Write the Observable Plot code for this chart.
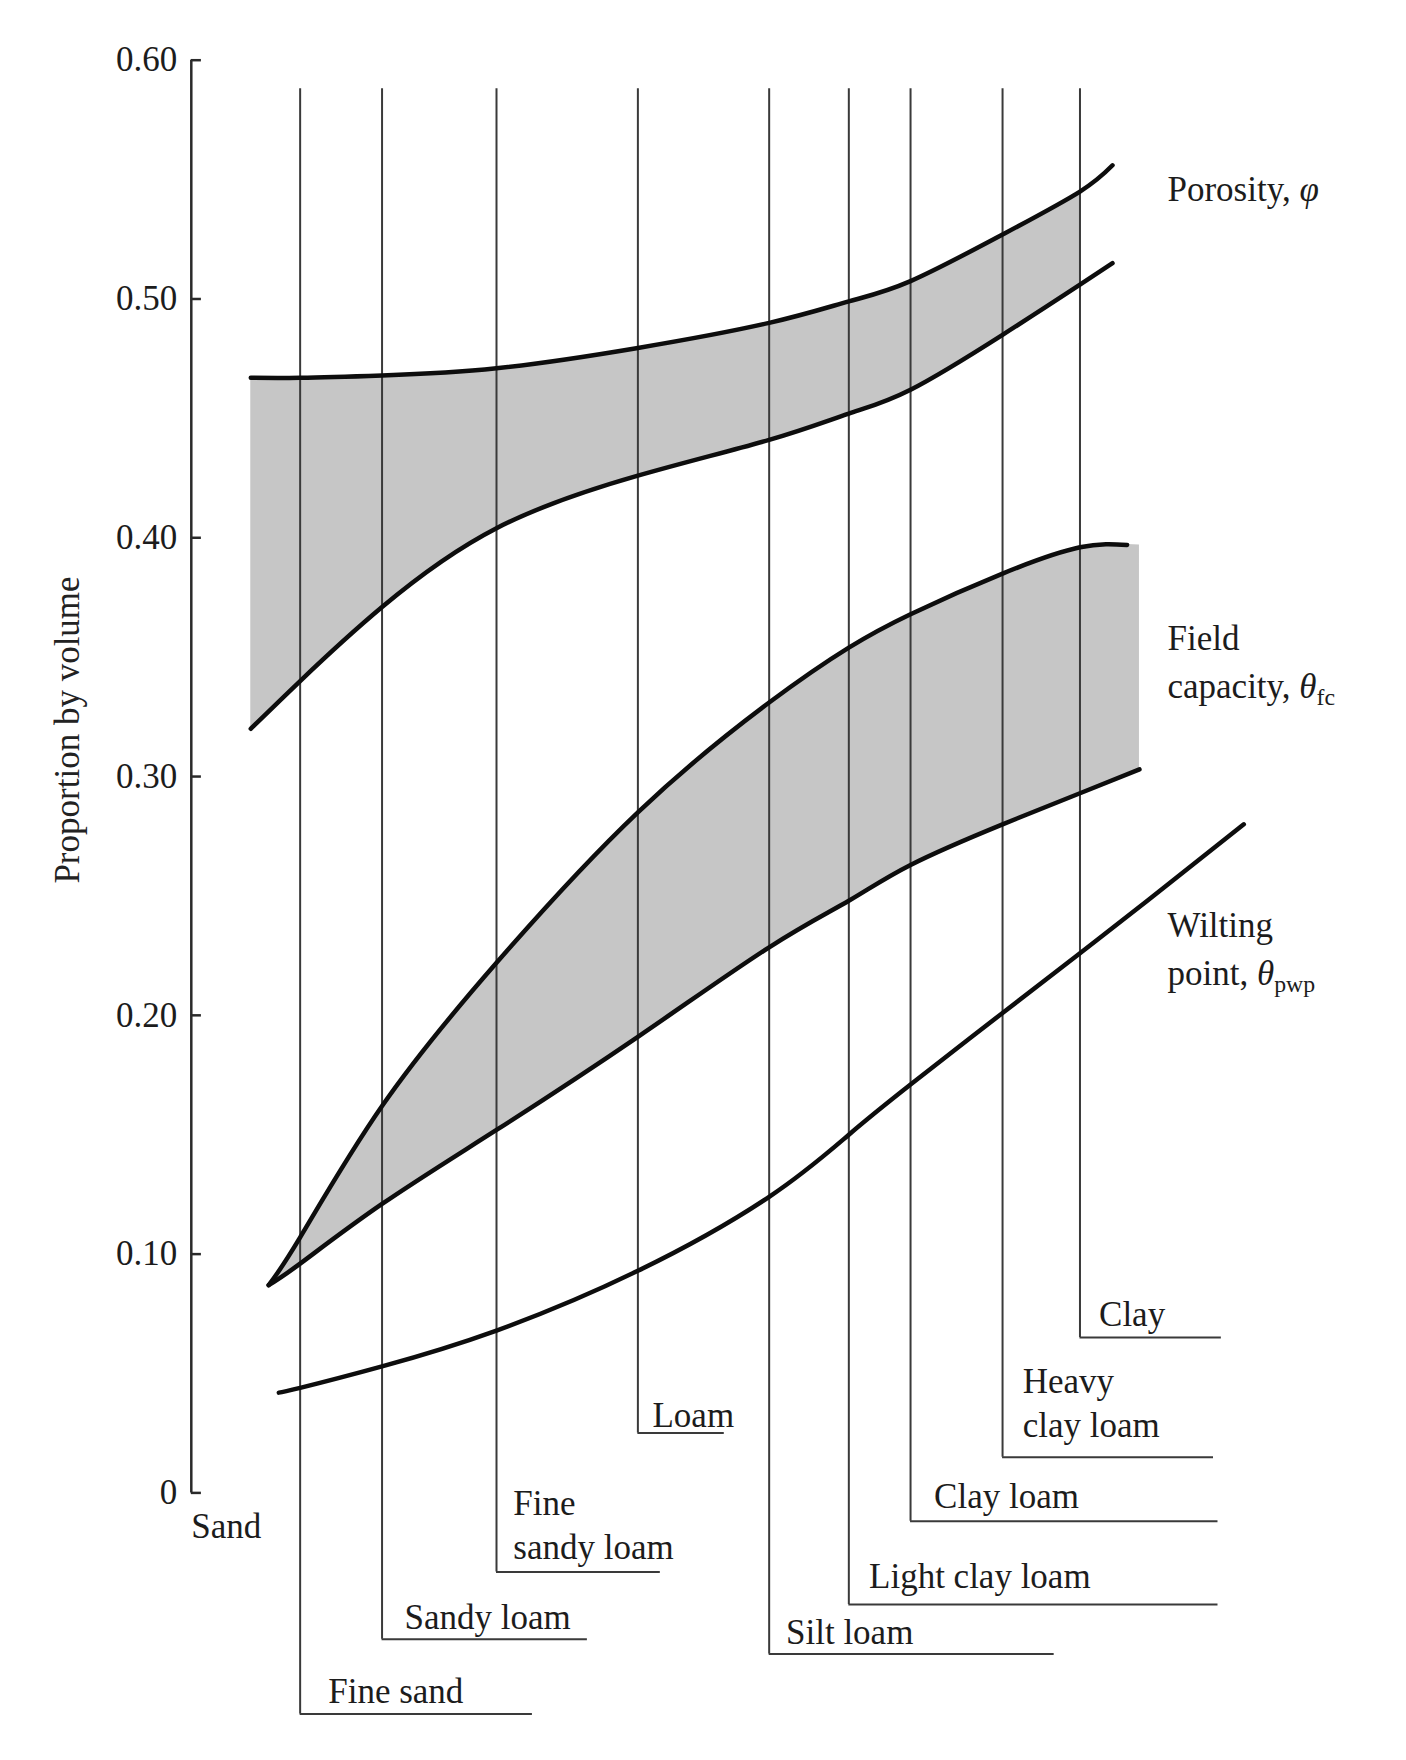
<!DOCTYPE html>
<html>
<head>
<meta charset="utf-8">
<script src="https://cdn.jsdelivr.net/npm/d3@7"></script>
<script src="https://cdn.jsdelivr.net/npm/@observablehq/plot@0.6"></script>
<style>
  html, body { margin: 0; padding: 0; background: #fff; }
  svg { display: block; }
</style>
</head>
<body>
<div id="chart"></div>
<script>
// ---------- DATA ----------
// Soil texture classes and their position on the texture axis (Sand = 0 at the y axis)
const classNames = ["Fine sand", "Sandy loam", "Fine\nsandy loam", "Loam", "Silt loam",
                    "Light clay loam", "Clay loam", "Heavy\nclay loam", "Clay"];
const classX = [9.7, 17.0, 27.2, 39.8, 51.5, 58.6, 64.1, 72.3, 79.2];

// Y axis ticks
const yTicks = [0, 0.1, 0.2, 0.3, 0.4, 0.5, 0.6];
const yTickLabels = ["0", "0.10", "0.20", "0.30", "0.40", "0.50", "0.60"];

// Porosity band (upper and lower limits)
const porosityX     = [5.3, 9.7, 17.0, 27.2, 39.8, 51.5, 58.6, 64.1, 72.3, 79.2, 82.1];
const porosityUpper = [0.467, 0.467, 0.468, 0.471, 0.4795, 0.490, 0.499, 0.5075, 0.527, 0.545, 0.556];
const porosityLower = [0.320, 0.340, 0.371, 0.404, 0.426, 0.441, 0.452, 0.462, 0.485, 0.506, 0.515];

// Field capacity band
const fcUpperX = [6.9, 9.7, 17.0, 27.2, 39.8, 51.5, 58.6, 64.1, 72.3, 79.2, 83.4];
const fcUpper  = [0.087, 0.107, 0.162, 0.222, 0.285, 0.331, 0.354, 0.368, 0.385, 0.396, 0.397];
const fcLowerX = [6.9, 9.7, 17.0, 27.2, 39.8, 51.5, 58.6, 64.1, 72.3, 79.2, 84.5];
const fcLower  = [0.087, 0.096, 0.121, 0.152, 0.191, 0.2285, 0.248, 0.263, 0.280, 0.293, 0.303];

// Wilting point
const wpX = [7.8, 9.7, 17.0, 27.2, 39.8, 51.5, 58.6, 64.1, 72.3, 79.2, 85.2, 93.8];
const wp  = [0.042, 0.044, 0.053, 0.068, 0.093, 0.124, 0.150, 0.171, 0.201, 0.226, 0.248, 0.280];

// Series labels on the right
const seriesLabels = ["Porosity, φ", "Field\ncapacity, θfc", "Wilting\npoint, θpwp"];
const axisTitle = "Proportion by volume";
const originLabel = "Sand";

// ---------- LAYOUT (placement of the class leaders and labels) ----------
const gridTop = 0.588;
const stemBottom = [-0.0926, -0.0613, -0.0331, 0.0251, -0.0675, -0.0467, -0.0119, 0.0149, 0.0651];
const tailEnd    = [30.4, 35.3, 41.8, 47.5, 76.9, 91.5, 91.5, 91.1, 91.8];
const labelX     = [12.2, 19.0, 28.7, 41.1, 53.0, 60.4, 66.2, 74.1, 80.9];
const labelBase  = [-0.0879, -0.0568, -0.0278, 0.0278, -0.0631, -0.0400, -0.0065, 0.0233, 0.0701];
const seriesLabelX = 87.0;
const seriesLabelBase = [0.5412, 0.3331, 0.2129];

// ---------- BUILD TABLES ----------
const classes = classNames.map((name, i) => ({
  name, x: classX[i], bottom: stemBottom[i], tail: tailEnd[i], lx: labelX[i], ly: labelBase[i]
}));
const pts = (xs, ys) => xs.map((x, i) => ({x, y: ys[i]}));
const porosityBand = porosityX.map((x, i) => ({x, lo: porosityLower[i], hi: porosityUpper[i]}))
  .filter(d => d.x <= classX[classX.length - 1]);
const fcBand = fcLowerX.map((x, i) => ({x, lo: fcLower[i], hi: fcUpper[i]}));
const series = seriesLabels.map((t, i) => ({t, y: seriesLabelBase[i]}));

const FONT = "'Liberation Serif', 'Times New Roman', serif";
const FS = 35;
const GRAY = "#c6c6c6";
const INK = "#0d0d0d";
const THIN = "#3a3a3a";
const CURVE = "natural";

const chart = Plot.plot({
  width: 1406,
  height: 1760,
  marginLeft: 190.8,
  marginRight: 0,
  marginTop: 59.7,
  marginBottom: 267.6,
  x: {domain: [0, 108.3], axis: null},
  y: {domain: [0, 0.6], axis: null},
  style: {fontFamily: FONT, fontSize: FS + "px", color: "#1c1c1c", background: "#fff"},
  marks: [
    // shaded bands
    Plot.areaY(porosityBand, {x: "x", y1: "lo", y2: "hi", fill: GRAY, curve: CURVE}),
    Plot.areaY(fcBand, {x: "x", y1: "lo", y2: "hi", fill: GRAY, curve: CURVE}),
    // soil class leader lines
    Plot.ruleX(classes, {x: "x", y1: "bottom", y2: gridTop, stroke: THIN, strokeWidth: 2}),
    Plot.ruleY(classes, {y: "bottom", x1: "x", x2: "tail", stroke: THIN, strokeWidth: 2}),
    // curves
    Plot.line(pts(porosityX, porosityUpper), {x: "x", y: "y", stroke: INK, strokeWidth: 4.5, curve: CURVE}),
    Plot.line(pts(porosityX, porosityLower), {x: "x", y: "y", stroke: INK, strokeWidth: 4.5, curve: CURVE}),
    Plot.line(pts(fcUpperX, fcUpper), {x: "x", y: "y", stroke: INK, strokeWidth: 4.5, curve: CURVE}),
    Plot.line(pts(fcLowerX, fcLower), {x: "x", y: "y", stroke: INK, strokeWidth: 4.5, curve: CURVE}),
    Plot.line(pts(wpX, wp), {x: "x", y: "y", stroke: INK, strokeWidth: 4.5, curve: CURVE}),
    // y axis
    Plot.ruleX([0], {y1: 0, y2: yTicks[yTicks.length - 1], stroke: "#2a2a2a", strokeWidth: 2.5}),
    Plot.ruleY(yTicks, {y: d => d, x1: 0, x2: 0.9, stroke: "#2a2a2a", strokeWidth: 2.5}),
    Plot.axisY({ticks: yTicks, tickSize: 0, tickPadding: 14, fontSize: FS,
      tickFormat: d => yTickLabels[yTicks.indexOf(d)], label: null}),
    Plot.text([axisTitle], {x: 0, y: 0.3195, dx: -124, rotate: -90, text: d => d, fontSize: FS, fill: "#222"}),
    // class labels
    Plot.text([originLabel], {x: 0, y: -0.019, text: d => d, textAnchor: "start", lineAnchor: "bottom", fontSize: FS}),
    Plot.text(classes, {x: "lx", y: "ly", text: "name", textAnchor: "start", lineAnchor: "bottom",
      lineHeight: 1.26, fontSize: FS}),
    // series labels
    Plot.text(series, {x: seriesLabelX, y: "y", text: "t", textAnchor: "start", lineAnchor: "bottom",
      lineHeight: 1.37, fontSize: FS})
  ]
});

// Italic Greek symbols and subscripts in the series labels
(function () {
  const NS = "http://www.w3.org/2000/svg";
  const walker = document.createTreeWalker(chart, NodeFilter.SHOW_TEXT);
  const nodes = [];
  while (walker.nextNode()) if (/[φθ]/.test(walker.currentNode.nodeValue)) nodes.push(walker.currentNode);
  for (const node of nodes) {
    const m = node.nodeValue.match(/^(.*?)([φθ])(.*)$/);
    const frag = document.createDocumentFragment();
    frag.appendChild(document.createTextNode(m[1]));
    const sym = document.createElementNS(NS, "tspan");
    sym.setAttribute("font-style", "italic");
    sym.textContent = m[2];
    frag.appendChild(sym);
    if (m[3]) {
      const sub = document.createElementNS(NS, "tspan");
      sub.setAttribute("font-size", "0.68em");
      sub.setAttribute("dy", "0.3em");
      sub.textContent = m[3];
      frag.appendChild(sub);
    }
    node.parentNode.replaceChild(frag, node);
  }
})();

document.getElementById("chart").appendChild(chart);
</script>
</body>
</html>
